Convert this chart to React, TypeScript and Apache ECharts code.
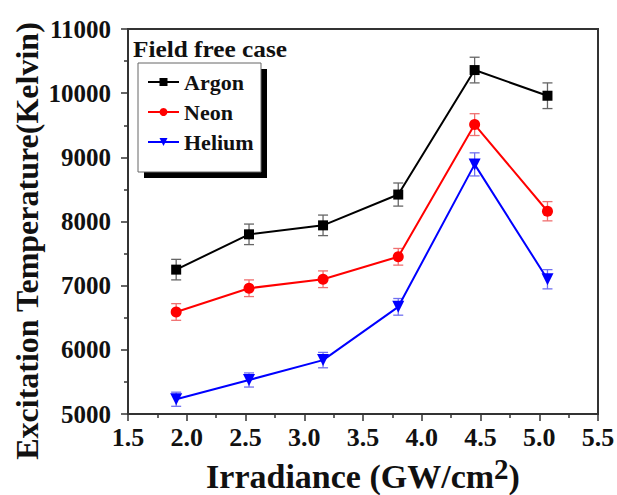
import React, { useEffect, useRef } from "react";
import * as echarts from "echarts";

const irradiance = [1.91, 2.53, 3.16, 3.8, 4.45, 5.07];
const argon = [7250, 7800, 7940, 8420, 10360, 9960];
const neon = [6590, 6960, 7100, 7450, 9510, 8160];
const helium = [5230, 5530, 5840, 6670, 8890, 7100];
const argonErr = [160, 160, 160, 180, 200, 200];
const neonErr = [130, 130, 130, 130, 170, 150];
const heliumErr = [110, 110, 120, 130, 180, 150];
const seriesNames = ["Argon", "Neon", "Helium"];
const colors = ["#000000", "#ff0000", "#0000ff"];
const errColors = ["#666666", "#f07070", "#7070f0"];
const yTitle = "Excitation Temperature(Kelvin)";
const chartTitle = "Field free case";

const FONT = "'Liberation Serif', 'Times New Roman', serif";

function errSeries(vals: number[], errs: number[], color: string) {
  return {
    type: "custom",
    silent: true,
    z: 1,
    data: irradiance.map((x, i) => [x, vals[i] - errs[i], vals[i] + errs[i]]),
    encode: { x: 0, y: [1, 2] },
    renderItem: (params: any, api: any) => {
      const lo = api.coord([api.value(0), api.value(1)]);
      const hi = api.coord([api.value(0), api.value(2)]);
      const w = 5;
      const style = { stroke: color, lineWidth: 1.3 };
      return {
        type: "group",
        children: [
          { type: "line", shape: { x1: lo[0], y1: lo[1], x2: hi[0], y2: hi[1] }, style },
          { type: "line", shape: { x1: lo[0] - w, y1: lo[1], x2: lo[0] + w, y2: lo[1] }, style },
          { type: "line", shape: { x1: hi[0] - w, y1: hi[1], x2: hi[0] + w, y2: hi[1] }, style },
        ],
      };
    },
  };
}

export default function App() {
  const ref = useRef<HTMLDivElement>(null);
  useEffect(() => {
    if (!ref.current) return;
    const chart = echarts.init(ref.current, undefined, { renderer: "svg" });
    const lineData = [argon, neon, helium];
    const symbols = ["rect", "circle", "triangle"];
    const sizes = [10, 11, 12];
    chart.setOption({
      animation: false,
      backgroundColor: "#ffffff",
      grid: {
        left: 128,
        right: 19,
        top: 29,
        bottom: 81,
        containLabel: false,
        outerBoundsMode: "none",
        show: true,
        borderColor: "#333333",
        borderWidth: 2,
        backgroundColor: "transparent",
      },
      xAxis: {
        type: "value",
        min: 1.5,
        max: 5.5,
        interval: 0.5,
        name: "{n|Irradiance (GW/cm}{s|2}{n|)}",
        nameLocation: "middle",
        nameGap: 27,
        nameTextStyle: {
          rich: {
            n: { fontFamily: FONT, fontWeight: "bold", fontSize: 34, color: "#111", verticalAlign: "bottom" },
            s: { fontFamily: FONT, fontWeight: "bold", fontSize: 29, color: "#111", verticalAlign: "top", padding: [0, 0, 10, 0] },
          },
        },
        axisLine: { lineStyle: { color: "#333", width: 2 } },
        axisTick: { length: 7, lineStyle: { color: "#333", width: 1.5 } },
        minorTick: { show: true, splitNumber: 2, length: 4, lineStyle: { color: "#333", width: 1.5 } },
        splitLine: { show: false },
        axisLabel: {
          fontFamily: FONT,
          fontWeight: "bold",
          fontSize: 26,
          color: "#111",
          margin: 10,
          formatter: (v: number) => v.toFixed(1),
        },
      },
      yAxis: {
        type: "value",
        min: 5000,
        max: 11000,
        interval: 1000,
        axisLine: { lineStyle: { color: "#333", width: 2 } },
        axisTick: { length: 7, lineStyle: { color: "#333", width: 1.5 } },
        minorTick: { show: true, splitNumber: 2, length: 4, lineStyle: { color: "#333", width: 1.5 } },
        splitLine: { show: false },
        axisLabel: {
          fontFamily: FONT,
          fontWeight: "bold",
          fontSize: 25,
          color: "#111",
          margin: 17,
          formatter: (v: number) => String(v),
        },
      },
      legend: {
        orient: "vertical",
        left: 142,
        top: 66,
        itemWidth: 31,
        itemHeight: 10,
        itemGap: 8,
        data: seriesNames,
        textStyle: { fontFamily: FONT, fontWeight: "bold", fontSize: 22, color: "#111" },
      },
      graphic: [
        { type: "rect", shape: { x: 144, y: 69, width: 123, height: 109 }, style: { fill: "#000" }, z: 0 },
        { type: "rect", shape: { x: 138, y: 63, width: 123, height: 109 }, style: { fill: "#fff", stroke: "#666", lineWidth: 1 }, z: 1 },
        {
          type: "text",
          x: 133,
          y: 37,
          scaleX: 1.1,
          style: { text: chartTitle, fontFamily: FONT, fontWeight: "bold", fontSize: 23, fill: "#111" },
          z: 2,
        },
        {
          type: "text",
          x: 27,
          y: 241,
          rotation: Math.PI / 2,
          style: {
            text: yTitle,
            fontFamily: FONT,
            fontWeight: "bold",
            fontSize: 32,
            fill: "#111",
            align: "center",
            verticalAlign: "middle",
          },
          z: 2,
        },
      ],
      series: [
        errSeries(argon, argonErr, errColors[0]),
        errSeries(neon, neonErr, errColors[1]),
        errSeries(helium, heliumErr, errColors[2]),
        ...lineData.map((d, i) => ({
          name: seriesNames[i],
          type: "line",
          z: 3,
          data: irradiance.map((x, j) => [x, d[j]]),
          symbol: symbols[i],
          symbolRotate: i === 2 ? 180 : 0,
          symbolSize: sizes[i],
          itemStyle: { color: colors[i] },
          lineStyle: { color: colors[i], width: 2 },
        })),
      ],
    });
    return () => chart.dispose();
  }, []);
  return <div ref={ref} style={{ position: "fixed", left: 0, top: 0, width: 617, height: 495 }} />;
}
